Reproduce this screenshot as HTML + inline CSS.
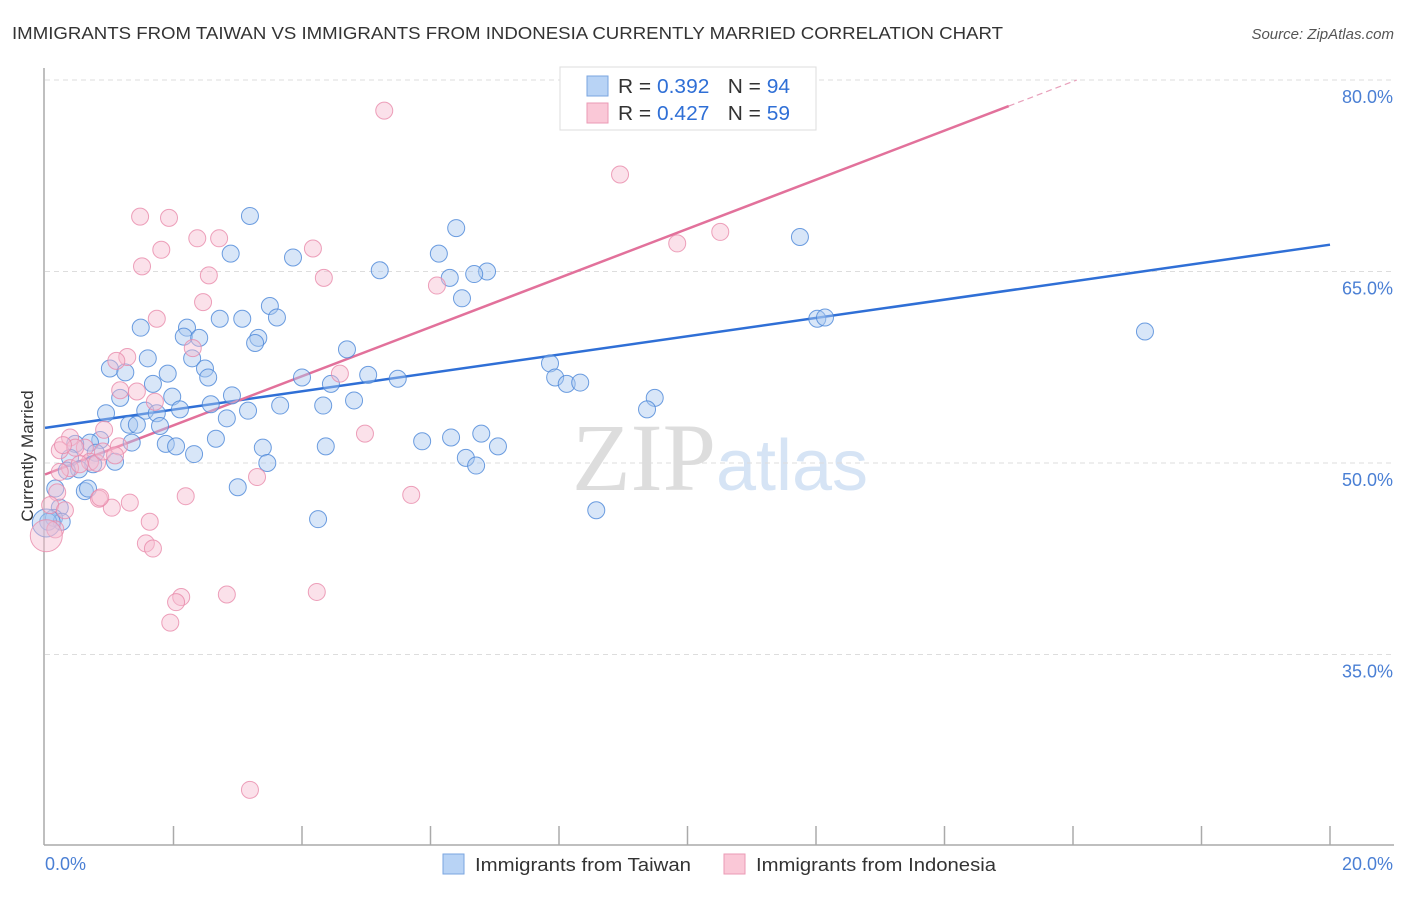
<!DOCTYPE html>
<html><head><meta charset="utf-8"><style>
body{margin:0;background:#fff;font-family:"Liberation Sans",sans-serif;}
svg text{font-family:"Liberation Sans",sans-serif;}
</style></head><body>
<svg id="chart" width="1406" height="892" viewBox="0 0 1406 892" xmlns="http://www.w3.org/2000/svg">
<text x="12" y="39" font-size="17.5" fill="#333" textLength="991" lengthAdjust="spacingAndGlyphs">IMMIGRANTS FROM TAIWAN VS IMMIGRANTS FROM INDONESIA CURRENTLY MARRIED CORRELATION CHART</text>
<text x="1394" y="39" font-size="15" fill="#555" text-anchor="end" font-style="italic">Source: ZipAtlas.com</text>
<text x="720" y="490" font-size="96" text-anchor="middle"><tspan fill="#ddd" font-family="Liberation Serif">ZIP</tspan><tspan fill="#d6e4f5" font-size="72">atlas</tspan></text>
<g id="grid"></g>
<g id="axes"></g>
<g id="lines"></g>
<g id="pts"></g>
<text transform="translate(33,456) rotate(-90)" font-size="17" fill="#333" text-anchor="middle">Currently Married</text>
<g>
<rect x="560" y="67" width="256" height="63" fill="#fff" stroke="#ddd"/>
<rect x="587" y="76" width="21" height="20" fill="#b8d3f5" stroke="#7aa6e0"/>
<rect x="587" y="103" width="21" height="20" fill="#fac8d7" stroke="#eb9ab4"/>
<text x="618" y="93" font-size="20.5" fill="#333" textLength="172" lengthAdjust="spacingAndGlyphs">R = <tspan fill="#2f6fd6">0.392</tspan><tspan dx="18">N = </tspan><tspan fill="#2f6fd6">94</tspan></text>
<text x="618" y="120" font-size="20.5" fill="#333" textLength="172" lengthAdjust="spacingAndGlyphs">R = <tspan fill="#2f6fd6">0.427</tspan><tspan dx="18">N = </tspan><tspan fill="#2f6fd6">59</tspan></text>
</g>
<g>
<rect x="443" y="854" width="21" height="20" fill="#b8d3f5" stroke="#7aa6e0"/>
<text x="475" y="871" font-size="18.5" fill="#333" textLength="216" lengthAdjust="spacingAndGlyphs">Immigrants from Taiwan</text>
<rect x="724" y="854" width="21" height="20" fill="#fac8d7" stroke="#eb9ab4"/>
<text x="756" y="871" font-size="18.5" fill="#333" textLength="240" lengthAdjust="spacingAndGlyphs">Immigrants from Indonesia</text>
</g>
</svg>
<script>
const yTicks=[80,65,50,35];
const xTickLabels=["0.0%","20.0%"];
const blueX=[3.19,6.40,2.89,3.86,6.13,5.21,6.88,6.68,6.30,6.49,3.50,3.07,2.72,3.61,2.21,1.49,2.16,2.40,3.32,3.27,4.70,1.60,2.29,1.01,1.25,2.49,1.91,2.54,1.68,4.00,4.45,5.03,5.49,7.86,7.94,8.12,8.33,1.17,1.98,2.91,2.58,3.66,4.81,4.33,9.49,9.37,0.95,1.56,1.74,2.10,3.16,2.83,1.31,1.43,1.79,1.35,1.88,2.04,2.66,2.32,3.39,4.37,5.87,6.32,6.79,7.05,6.55,6.71,0.86,0.70,0.47,0.39,0.79,1.09,0.75,3.46,0.53,0.34,3.00,0.62,0.67,0.16,0.23,0.14,0.26,0.05,4.25,8.58,11.75,12.02,12.14,17.12,0.02];
const blueY=[69.35,68.4,66.4,66.1,66.4,65.1,65.0,64.8,64.5,62.9,62.3,61.3,61.3,61.4,60.6,60.6,59.9,59.8,59.8,59.4,58.9,58.2,58.2,57.4,57.1,57.4,57.0,56.7,56.2,56.7,56.2,56.9,56.6,57.8,56.7,56.2,56.3,55.1,55.2,55.3,54.6,54.5,54.9,54.5,55.1,54.2,53.9,54.1,53.9,54.2,54.1,53.5,53.0,53.0,52.9,51.6,51.5,51.3,51.9,50.7,51.2,51.3,51.7,52.0,52.3,51.3,50.4,49.8,51.8,51.6,51.5,50.4,50.8,50.1,49.9,50.0,49.5,49.4,48.1,47.8,48.0,48.0,46.5,45.7,45.4,45.4,45.6,46.3,67.7,61.3,61.4,60.3,45.3];
const pinkX=[5.28,8.95,1.48,1.93,2.37,2.71,1.81,4.17,10.51,9.84,1.51,2.55,4.34,6.10,2.46,1.74,2.30,1.28,1.11,1.17,1.43,4.59,1.71,0.92,0.39,0.23,0.62,1.15,0.47,0.70,0.39,0.81,0.23,0.90,3.30,2.19,5.70,0.19,0.84,1.32,1.04,0.08,1.63,4.98,1.57,1.68,2.12,2.04,2.83,4.23,1.95,3.19,0.16,0.31,0.86,0.54,1.09,0.28,0.02];
const pinkY=[77.6,72.6,69.3,69.2,67.6,67.6,66.7,66.8,68.1,67.2,65.4,64.7,64.5,63.9,62.6,61.3,59.0,58.3,58.0,55.7,55.6,57.0,54.8,52.6,52.0,51.0,51.2,51.3,51.2,50.1,49.6,50.0,49.3,50.9,48.9,47.4,47.5,47.7,47.2,46.9,46.5,46.7,45.4,52.3,43.7,43.3,39.5,39.1,39.7,39.9,37.5,24.4,44.8,46.3,47.3,49.9,50.6,51.4,44.3];
const blueTrend=[52.75,67.1];
const pinkTrend=[49.1,1.924];
const NS="http://www.w3.org/2000/svg";
const X0=45,X1=1330;
function xs(v){return X0+(v/20)*(X1-X0);}
function ys(v){return 80+(80-v)*(191.5/15);}
function mk(tag,attrs,parent){const e=document.createElementNS(NS,tag);for(const k in attrs)e.setAttribute(k,attrs[k]);parent.appendChild(e);return e;}
const grid=document.getElementById('grid'),axes=document.getElementById('axes'),lines=document.getElementById('lines'),pts=document.getElementById('pts');
yTicks.forEach(t=>{
 const l=mk('line',{x1:45,x2:1394,y1:ys(t),y2:ys(t),stroke:'#ddd','stroke-dasharray':'5,4'},grid);
 
 
 const tx=mk('text',{x:1393,y:ys(t)+23,'font-size':18,fill:'#4a7fd4','text-anchor':'end'},grid);
 tx.textContent=t.toFixed(1)+'%';
 
 
});
mk('line',{x1:44,x2:44,y1:68,y2:845,stroke:'#aaa','stroke-width':1.5},axes);
mk('line',{x1:44,x2:1394,y1:845,y2:845,stroke:'#aaa','stroke-width':1.5},axes);
for(let i=1;i<=10;i++){const x=xs(i*2);const t=mk('line',{x1:x,x2:x,y1:826,y2:845,stroke:'#aaa','stroke-width':1.5},axes);
 
 }
const xl0=mk('text',{x:45,y:870,'font-size':18,fill:'#4a7fd4'},axes);xl0.textContent=xTickLabels[0];


const xl1=mk('text',{x:1393,y:870,'font-size':18,fill:'#4a7fd4','text-anchor':'end'},axes);xl1.textContent=xTickLabels[1];


function dot(x,y,c,f,r){const e=mk('circle',{cx:xs(x),cy:ys(y),r:r,fill:f,'fill-opacity':0.45,stroke:c,'stroke-opacity':0.8,'stroke-width':1},pts);return e;}
blueX.forEach((x,i)=>{const e=dot(x,blueY[i],'#4a86d8','#a9c8f0',i==blueX.length-1?14:8.5);
 
 });
pinkX.forEach((x,i)=>{const e=dot(x,pinkY[i],'#e88aaa','#f7bcd0',i==pinkX.length-1?16:8.5);
 
 });
const bl=mk('line',{x1:xs(0),y1:ys(blueTrend[0]),x2:xs(20),y2:ys(blueTrend[1]),stroke:'#2f6fd6','stroke-width':2.5},lines);


const pEnd=15.0,pMax=(80-pinkTrend[0])/pinkTrend[1];
const pl=mk('line',{x1:xs(0),y1:ys(pinkTrend[0]),x2:xs(pEnd),y2:ys(pinkTrend[0]+pinkTrend[1]*pEnd),stroke:'#e2719b','stroke-width':2.5},lines);


const pd=mk('line',{x1:xs(pEnd),y1:ys(pinkTrend[0]+pinkTrend[1]*pEnd),x2:xs(pMax),y2:ys(pinkTrend[0]+pinkTrend[1]*pMax),stroke:'#e8a0bb','stroke-width':1.2,'stroke-dasharray':'6,4'},lines);


</script>
</body></html>
